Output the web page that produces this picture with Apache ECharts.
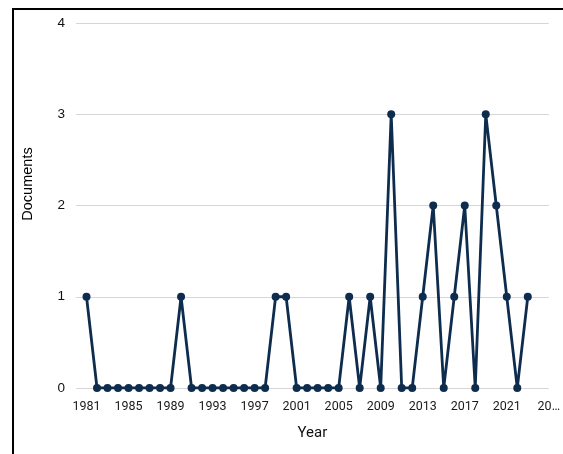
<!DOCTYPE html>
<html>
<head>
<meta charset="utf-8">
<style>
html,body{margin:0;padding:0;background:#fff;}
#chart{width:563px;height:454px;}
</style>
<script src="https://cdn.jsdelivr.net/npm/echarts@6/dist/echarts.min.js"></script>
</head>
<body>
<div id="chart"></div>
<script>
const years = [1981,1982,1983,1984,1985,1986,1987,1988,1989,1990,1991,1992,1993,1994,1995,1996,1997,1998,1999,2000,2001,2002,2003,2004,2005,2006,2007,2008,2009,2010,2011,2012,2013,2014,2015,2016,2017,2018,2019,2020,2021,2022,2023];
const documents = [1,0,0,0,0,0,0,0,0,1,0,0,0,0,0,0,0,0,1,1,0,0,0,0,0,1,0,1,0,3,0,0,1,2,0,1,2,0,3,2,1,0,1];
const xTickYears = [1981,1985,1989,1993,1997,2001,2005,2009,2013,2017,2021,2025];
const xTickLabels = ['1981','1985','1989','1993','1997','2001','2005','2009','2013','2017','2021','20…'];
const yTicks = [0,1,2,3,4];

const chart = echarts.init(document.getElementById('chart'));
const seriesData = years.map((y,i)=>[y, documents[i]]);
chart.setOption({
  animation:false,
  backgroundColor:'#ffffff',
  grid:{left:76,right:10,top:23,bottom:66,containLabel:false},
  xAxis:{
    type:'value', min:1980, max:2025, interval:1,
    name:'Year', nameLocation:'middle', nameGap:38,
    nameTextStyle:{fontFamily:'Roboto',fontSize:15,color:'#111'},
    axisLine:{show:false}, axisTick:{show:false}, splitLine:{show:false},
    axisLabel:{
      fontFamily:'Roboto', fontSize:12.5, color:'#1a1a1a', margin:12,
      formatter:function(v){const k=xTickYears.indexOf(v);return k>=0?xTickLabels[k]:'';}
    }
  },
  yAxis:{
    type:'value', min:yTicks[0], max:yTicks[yTicks.length-1], interval:1,
    axisLine:{show:false}, axisTick:{show:false},
    splitLine:{lineStyle:{color:'#d6d6d6',width:1}},
    axisLabel:{fontFamily:'Liberation Sans',fontSize:13.5,color:'#111',margin:11}
  },
  graphic:[
    {type:'line',shape:{x1:12,y1:9,x2:563,y2:9},style:{stroke:'#000',lineWidth:2},z:100},
    {type:'line',shape:{x1:13,y1:9,x2:13,y2:454},style:{stroke:'#000',lineWidth:2},z:100},
    {type:'text',x:28,y:184,rotation:Math.PI/2,
     style:{text:'Documents',fontFamily:'Liberation Sans',fontSize:14.5,fill:'#000',align:'center',verticalAlign:'middle'}}
  ],
  series:[{
    type:'line', data:seriesData,
    symbol:'circle', symbolSize:8, showAllSymbol:true,
    lineStyle:{color:'#0e2c4e',width:2.8},
    itemStyle:{color:'#0e2c4e'}
  }]
});
</script>
</body>
</html>
